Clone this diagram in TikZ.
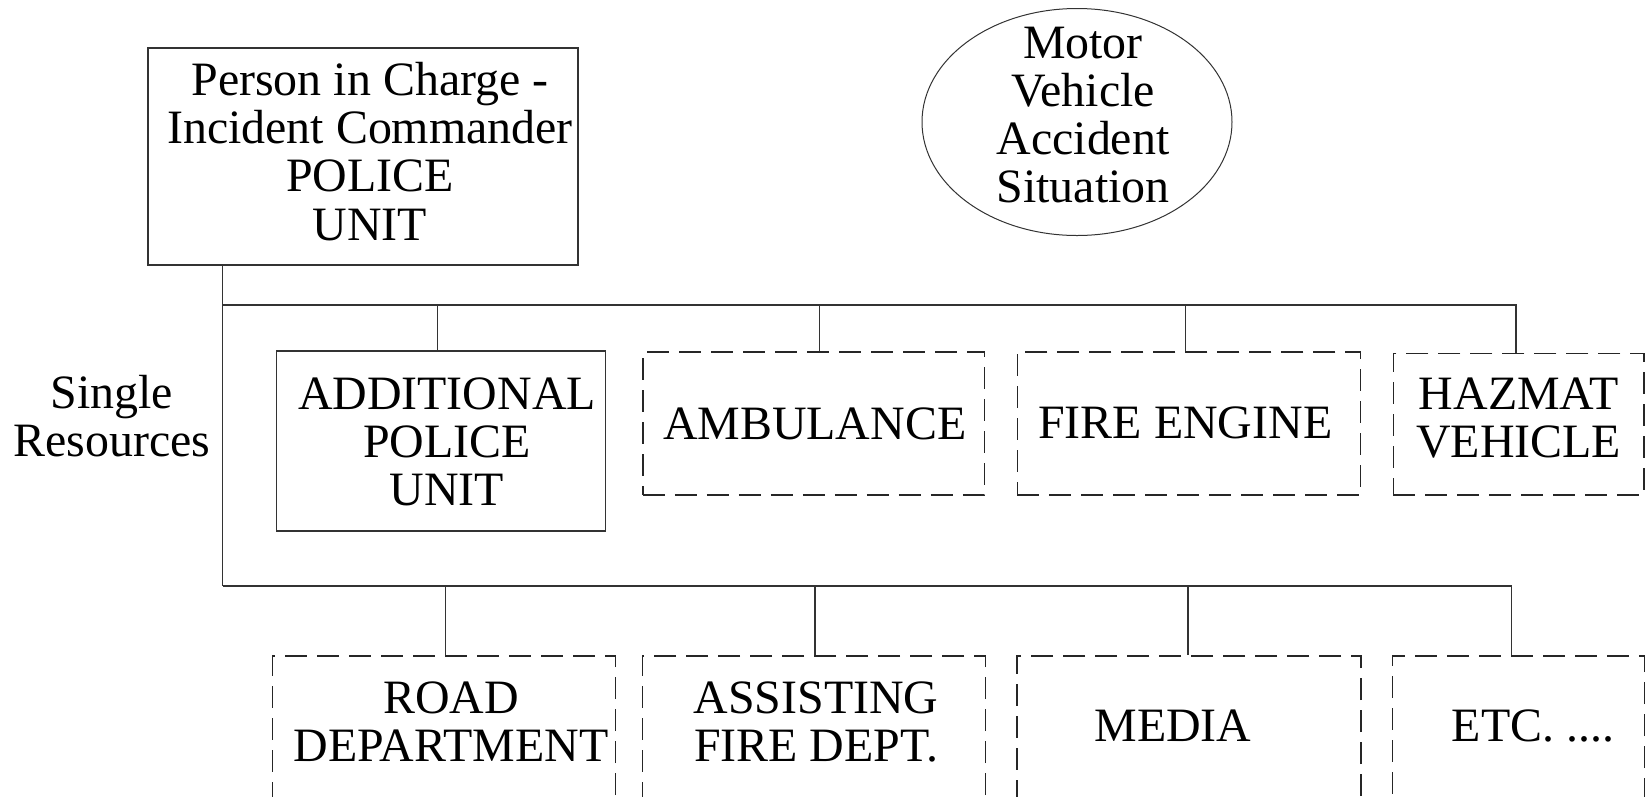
\documentclass[tikz,border=0pt]{standalone}
\usepackage{fontspec}
\setmainfont{Liberation Serif}
\usetikzlibrary{shapes.geometric}
\begin{document}
\begin{tikzpicture}[x=1pt,y=-1pt,
  every node/.style={font=\fontsize{47.9}{48.3}\selectfont},
  txt/.style={align=center, inner sep=0},
  solidbox/.style={draw=black!80, line width=1.3pt, inner sep=0},
  dashbox/.style={draw=black!85, line width=1.3pt, dash pattern=on 22pt off 10pt, inner sep=0},
  conn/.style={draw=black!80, line width=1.3pt}]
\useasboundingbox (0,0) rectangle (1646,796);
\clip (0,0) rectangle (1646,796);
\fill[white] (0,0) rectangle (1646,796);

% top
\node[solidbox, minimum width=430, minimum height=217] (pic) at (363,156.5) {};
\node[txt] (pictxt) at (370,151.2) {Person in Charge -\\Incident Commander\\POLICE\\UNIT};
\node[ellipse, draw=black!80, line width=1pt, minimum width=310, minimum height=227, inner sep=0] (mva) at (1077,122) {};
\node[txt] (mvatxt) at (1083,115) {Motor\\Vehicle\\Accident\\Situation};

\node[txt] (single) at (112,416) {Single\\Resources};

% first row
\node[solidbox, minimum width=328.5, minimum height=180] (add) at (441,441) {};
\node[txt] (addtxt) at (447,441.7) {ADDITIONAL\\POLICE\\UNIT};
\node[dashbox, minimum width=341.5, minimum height=143] (amb) at (813.6,423.5) {};
\node[txt] (ambtxt) at (814.7,423.5) {AMBULANCE};
\node[dashbox, minimum width=343.5, minimum height=143] (fire) at (1189,423.5) {};
\node[txt] (firetxt) at (1185.3,423.2) {FIRE ENGINE};
\node[dashbox, minimum width=250.6, minimum height=141.7] (haz) at (1518.7,424.2) {};
\node[txt] (haztxt) at (1518.7,418.3) {HAZMAT\\VEHICLE};

% second row
\node[dashbox, minimum width=343, minimum height=180] (road) at (444,746) {};
\node[txt] (roadtxt) at (451,722) {ROAD\\DEPARTMENT};
\node[dashbox, minimum width=343, minimum height=180] (assist) at (813.7,746) {};
\node[txt] (assisttxt) at (816,722) {ASSISTING\\FIRE DEPT.};
\node[dashbox, minimum width=344, minimum height=180] (media) at (1189,746) {};
\node[txt] (mediatxt) at (1173,725.9) {MEDIA};
\node[dashbox, minimum width=252, minimum height=180] (etc) at (1518.8,746) {};
\node[txt] (etctxt) at (1533,725.9) {ETC. ....};

% connectors
\coordinate (j1) at (222.5,305);
\coordinate (j2) at (222.5,586);
\draw[conn] (pic.south -| j1) -- (j2);
\draw[conn] (j1) -| ([xshift=-3.5]add.north);
\draw[conn] (j1) -| ([xshift=6]amb.north);
\draw[conn] (j1) -| ([xshift=-3.7]fire.north);
\draw[conn] (j1) -| ([xshift=-2.7]haz.north);
\draw[conn] (j2) -| ([xshift=1.2]road.north);
\draw[conn] (j2) -| ([xshift=1.3]assist.north);
\draw[conn] (j2) -| ([xshift=-1]media.north);
\draw[conn] (j2) -| ([xshift=-7]etc.north);
\end{tikzpicture}
\end{document}
